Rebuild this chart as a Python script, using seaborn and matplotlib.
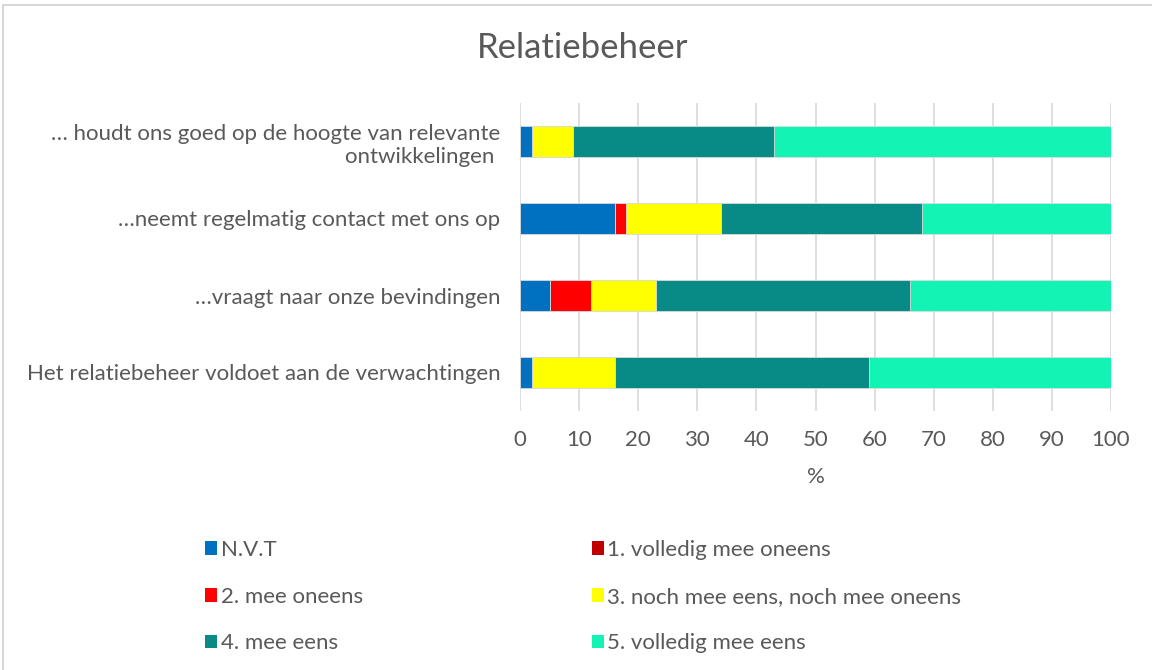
import matplotlib
matplotlib.use("Agg")
import matplotlib.pyplot as plt
import seaborn as sns
import pandas as pd
import numpy as np
from matplotlib.patches import Patch, Rectangle

categories = [
    "… houdt ons goed op de hoogte van relevante\nontwikkelingen ",
    "…neemt regelmatig contact met ons op",
    "…vraagt naar onze bevindingen",
    "Het relatiebeheer voldoet aan de verwachtingen",
]
series = ["N.V.T", "1. volledig mee oneens", "2. mee oneens",
          "3. noch mee eens, noch mee oneens", "4. mee eens", "5. volledig mee eens"]
nvt = [2, 16, 5, 2]
s1 = [0, 0, 0, 0]
s2 = [0, 2, 7, 0]
s3 = [7, 16, 11, 14]
s4 = [34, 34, 43, 43]
s5 = [57, 32, 34, 41]
colors = ["#0070C0", "#C00000", "#FF0000", "#FFFF00", "#088B87", "#12F3B4"]
xticks = list(range(0, 101, 10))

sns.set_theme(style="white")
plt.rcParams["font.family"] = ["Lato", "DejaVu Sans"]
text_color = "#595959"
fs = 16

values = [nvt, s1, s2, s3, s4, s5]
cum = np.cumsum(np.array(values), axis=0)

fig = plt.figure(figsize=(11.52, 6.70), dpi=100)
ax = fig.add_axes([520 / 1152, 1 - 411 / 670, (1111 - 520) / 1152, 308 / 670])

# draw cumulative totals from the last series backwards (stacked bars)
for i in range(len(series) - 1, -1, -1):
    df = pd.DataFrame({"cat": categories, "val": cum[i]})
    sns.barplot(data=df, y="cat", x="val", orient="h", color=colors[i],
                width=0.4, saturation=1, ax=ax, edgecolor="#DDDDDD",
                linewidth=0.6, zorder=3)

ax.set_xlim(0, 100)
ax.set_xticks(xticks)
ax.set_xticklabels([str(t) for t in xticks], fontsize=fs, color=text_color)
ax.tick_params(axis="y", labelsize=fs, labelcolor=text_color, length=0, pad=14)
ax.tick_params(axis="x", length=0, pad=14)
for lbl in ax.get_yticklabels():
    lbl.set_multialignment("right")
ax.xaxis.grid(True, color="#D9D9D9", linewidth=1.2, zorder=0)
ax.yaxis.grid(False)
for sp in ax.spines.values():
    sp.set_visible(False)
ax.set_ylabel("")
ax.set_xlabel("%", fontsize=fs, color=text_color, labelpad=12)

fig.text(583 / 1152, 1 - 48 / 670, "Relatiebeheer", ha="center", va="center",
         fontsize=25, color=text_color)

handles = [Patch(facecolor=c, edgecolor="none") for c in colors]
order = [0, 2, 4, 1, 3, 5]  # legend fills column-wise; show series row-wise
leg = fig.legend([handles[k] for k in order], [series[k] for k in order], ncol=2,
                 loc="upper left", bbox_to_anchor=(205 / 1152, 1 - 540 / 670),
                 frameon=False, fontsize=fs, handlelength=0.55, handleheight=0.55,
                 handletextpad=0.15, columnspacing=10.3, labelspacing=1.2,
                 borderaxespad=0, borderpad=0)
for t in leg.get_texts():
    t.set_color(text_color)

fig.patches.append(Rectangle((3 / 1152, -0.1), 1.2, 1 - 5 / 670 + 0.1,
                             transform=fig.transFigure, fill=False,
                             edgecolor="#D0D0D0", linewidth=1.2))

fig.savefig("out.png", dpi=100)
